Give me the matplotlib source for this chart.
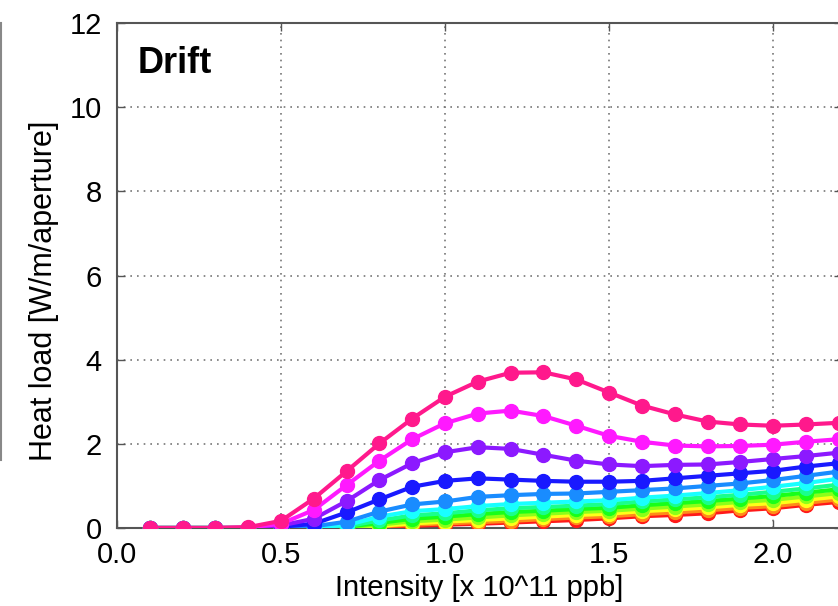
import matplotlib
matplotlib.use("Agg")
import matplotlib.pyplot as plt
from matplotlib.colors import hsv_to_rgb
from matplotlib.lines import Line2D

plt.rcParams['font.family'] = ['Liberation Sans', 'DejaVu Sans']

# Intensity [x 10^11 ppb]
intensity = [0.1, 0.2, 0.3, 0.4, 0.5, 0.6, 0.7, 0.8, 0.9, 1.0, 1.1,
             1.2, 1.3, 1.4, 1.5, 1.6, 1.7, 1.8, 1.9, 2.0, 2.1, 2.2]

# heat load curves, bottom (red) to top (pink)
red = [0, 0, 0, 0, 0, 0, 0.01, 0.02, 0.05, 0.08, 0.10, 0.13, 0.16, 0.19, 0.23, 0.28, 0.31, 0.35, 0.42, 0.47, 0.55, 0.62]
orange = [0, 0, 0, 0, 0, 0, 0.01, 0.04, 0.08, 0.11, 0.14, 0.17, 0.21, 0.25, 0.28, 0.33, 0.37, 0.42, 0.48, 0.52, 0.60, 0.68]
yellow = [0, 0, 0, 0, 0, 0, 0.01, 0.05, 0.11, 0.15, 0.19, 0.23, 0.27, 0.31, 0.34, 0.40, 0.44, 0.49, 0.55, 0.59, 0.67, 0.75]
chartreuse = [0, 0, 0, 0, 0, 0, 0.02, 0.08, 0.16, 0.20, 0.25, 0.30, 0.34, 0.38, 0.41, 0.46, 0.51, 0.56, 0.62, 0.67, 0.75, 0.83]
green = [0, 0, 0, 0, 0, 0, 0.03, 0.12, 0.22, 0.27, 0.33, 0.38, 0.41, 0.45, 0.48, 0.54, 0.59, 0.64, 0.70, 0.76, 0.84, 0.92]
spring = [0, 0, 0, 0, 0, 0.01, 0.04, 0.18, 0.30, 0.35, 0.42, 0.47, 0.50, 0.53, 0.57, 0.63, 0.68, 0.73, 0.79, 0.86, 0.94, 1.03]
cyan = [0, 0, 0, 0, 0, 0.02, 0.07, 0.27, 0.40, 0.45, 0.52, 0.57, 0.60, 0.63, 0.66, 0.72, 0.77, 0.83, 0.90, 0.98, 1.07, 1.17]
lightblue = [0, 0, 0, 0, 0.01, 0.04, 0.15, 0.39, 0.56, 0.63, 0.74, 0.78, 0.81, 0.82, 0.86, 0.90, 0.94, 1.00, 1.06, 1.14, 1.24, 1.34]
blue = [0, 0, 0, 0, 0.03, 0.10, 0.37, 0.68, 0.98, 1.12, 1.18, 1.15, 1.12, 1.10, 1.10, 1.12, 1.18, 1.24, 1.30, 1.36, 1.46, 1.54]
purple = [0, 0, 0, 0, 0.06, 0.22, 0.64, 1.14, 1.54, 1.80, 1.92, 1.88, 1.74, 1.60, 1.51, 1.47, 1.50, 1.51, 1.57, 1.64, 1.71, 1.79]
magenta = [0, 0, 0, 0.01, 0.10, 0.43, 1.02, 1.60, 2.11, 2.49, 2.72, 2.79, 2.66, 2.43, 2.19, 2.05, 1.96, 1.94, 1.95, 1.98, 2.05, 2.11]
pink = [0, 0, 0, 0.02, 0.17, 0.70, 1.35, 2.01, 2.60, 3.12, 3.48, 3.69, 3.70, 3.53, 3.22, 2.91, 2.70, 2.53, 2.46, 2.43, 2.46, 2.50]

curves = [red, orange, yellow, chartreuse, green, spring,
          cyan, lightblue, blue, purple, magenta, pink]

fig = plt.figure(figsize=(8.38, 6.06), dpi=100)
ax = fig.add_axes([0.1396, 0.1287, 0.8652, 0.8333])

for i, vals in enumerate(curves):
    c = hsv_to_rgb((i * 30 / 360.0, 0.9, 1.0))
    ax.plot(intensity, vals, '-o', color=c, lw=3, ms=10, zorder=3 + i)

ax.set_xlim(0, 2.21)
ax.set_ylim(0, 12)
ax.set_xticks([0.0, 0.5, 1.0, 1.5, 2.0])
ax.set_xticklabels(['0.0', '0.5', '1.0', '1.5', '2.0'])
ax.set_yticks(range(0, 13, 2))

ax.grid(True, color='#777777', lw=1.2, linestyle=(0, (1, 3)))
ax.tick_params(direction='in', length=6, width=1, color='#555555',
               labelsize=21, top=True, right=True)
ax.tick_params(axis='y', pad=11)
ax.tick_params(axis='x', pad=9)
for s in ax.spines.values():
    s.set_color('#555555')
    s.set_linewidth(1.5)

ax.set_xlabel('Intensity [x 10^11 ppb]', fontsize=21, labelpad=4)
ax.set_ylabel('Heat load [W/m/aperture]', fontsize=22)
ax.yaxis.set_label_coords(-0.080, 0.47)

ax.text(0.029, 0.901, 'Drift', transform=ax.transAxes, fontsize=26,
        fontweight='bold', va='baseline', ha='left')

# thin grey frame edge at far left
fig.add_artist(Line2D([0.001, 0.001], [0.241, 0.962], transform=fig.transFigure,
                      color='#888888', lw=1.5))

fig.savefig('out.png', dpi=100)
